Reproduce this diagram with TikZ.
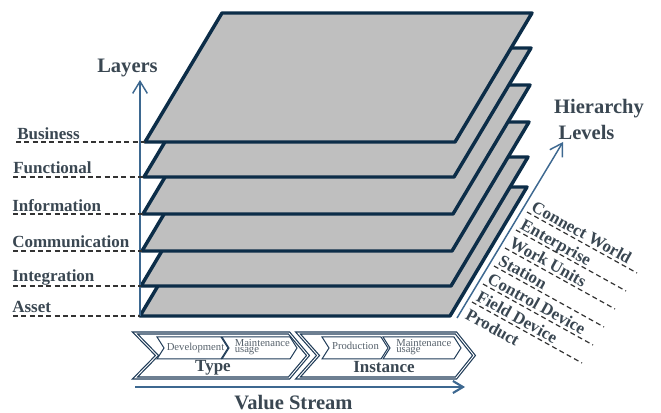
\documentclass[tikz,border=0pt]{standalone}
\usepackage{fontspec}
\setmainfont{Liberation Serif}
\usetikzlibrary{arrows.meta,calc}
\definecolor{navy}{HTML}{0C2D48}
\definecolor{slab}{HTML}{BFBFBF}
\definecolor{axis}{HTML}{3D6890}
\definecolor{ink}{HTML}{3A4752}
\definecolor{soft}{HTML}{56616B}
\definecolor{chev}{HTML}{1F3B57}
\definecolor{guidegray}{HTML}{333333}
\begin{document}
\begin{tikzpicture}[x=0.75pt,y=-0.75pt,
  slabstyle/.style={draw=navy,fill=slab,line width=2.6pt,line join=round},
  guide/.style={draw=guidegray,line width=0.9pt,dash pattern=on 3.75pt off 2.5pt},
  axisarrow/.style={draw=axis,line width=1.1pt,-{Straight Barb[length=9pt,width=11pt]}},
  streamarrow/.style={draw=axis,line width=1.6pt,-{Straight Barb[length=7.5pt,width=9pt]}},
  lbl/.style={font=\fontsize{12.75}{14}\selectfont\bfseries,text=ink,inner sep=0pt},
  title/.style={font=\fontsize{15.4}{17}\selectfont\bfseries,text=ink,inner sep=0pt},
  phase/.style={font=\fontsize{8}{8}\selectfont,text=soft,inner sep=0pt},
  bigchev/.style={draw=chev,line width=0.9pt,double=white,double distance=0.7pt,line join=miter},
  smallchev/.style={draw=chev,line width=0.75pt,line join=miter}]
\useasboundingbox (0,0) rectangle (661,413);

% stacked layer planes, drawn from the lowest upwards
\foreach \x/\y in {140/316,141/286,142/251,143/214,144/177,145/142}
  \draw[slabstyle] (\x,\y) -- ++(310,0) -- ++(77,-129) -- ++(-310,0) -- cycle;

% layer axis
\coordinate (lay0) at (140,316);
\coordinate (lay1) at (140,80);
\draw[axisarrow] (lay0) -- (lay1);
\node[title,anchor=base] (layers) at (127.5,73) {Layers};

% layer names with their guide lines
\foreach \name/\txt/\lx/\ly/\gx/\gy/\ex in {
    business/Business/17/139.5/16/142/145,
    functional/Functional/13/173.5/13/177/144,
    information/Information/12/211.5/13/214/143,
    communication/Communication/12/247.5/13/251/142,
    integration/Integration/12/282/13/286/141,
    asset/Asset/12/312.5/13/316/140}{
  \node[lbl,anchor=base west] (\name) at (\lx,\ly) {\txt};
  \coordinate (\name-a) at (\gx,\gy);
  \coordinate (\name-b) at (\ex,\gy);
  \draw[guide] (\name-a) -- (\name-b);
}

% hierarchy axis
\coordinate (hier0) at (457,318);
\coordinate (hier1) at (563,142);
\draw[axisarrow] (hier0) -- (hier1);
\node[title,anchor=base] (hierarchy) at (599,114) {Hierarchy};
\node[title,anchor=base] (levels) at (586.5,140) {Levels};

% hierarchy level names and guide lines
\foreach \txt [count=\k from 0] in {Connect World,Enterprise,Work Units,Station,Control Device,Field Device,Product}{
  \coordinate (lev\k) at ({527-11*\k},{212+18*\k});
  \node[lbl,rotate=-29,anchor=base west] (levtxt\k) at ($(lev\k)+(3.2,-1.7)$) {\txt};
}
\foreach \k in {0,...,5}{
  \coordinate (levend\k) at ({637-11*\k},{273+18*\k});
  \draw[guide] (lev\k) -- (levend\k);
}

% life-cycle chevrons
\draw[bigchev] (135,333) -- (289,333) -- (308,355.5) -- (289,378) -- (135,378) -- (157,355.5) -- cycle;
\draw[bigchev] (298,333) -- (456,333) -- (474,355.5) -- (456,378) -- (298,378) -- (318,355.5) -- cycle;

\draw[smallchev] (157,337) -- (221,337) -- (228,348) -- (221,359) -- (157,359) -- (164,348) -- cycle;
\draw[smallchev] (222,337) -- (290,337) -- (297,348) -- (290,359) -- (222,359) -- (229,348) -- cycle;
\draw[smallchev] (322,337) -- (381,337) -- (388,348) -- (381,359) -- (322,359) -- (329,348) -- cycle;
\draw[smallchev] (383,337) -- (454,337) -- (461,348) -- (454,359) -- (383,359) -- (390,348) -- cycle;

\node[phase,anchor=base] (dev) at (195.5,350.5) {Development};
\node[phase,anchor=base west] (maint1) at (234.5,346.5) {Maintenance};
\node[phase,anchor=base west] (usage1) at (234.5,352.5) {usage};
\node[phase,anchor=base] (prod) at (355.5,350) {Production};
\node[phase,anchor=base west] (maint2) at (396,346.5) {Maintenance};
\node[phase,anchor=base west] (usage2) at (396,352.5) {usage};

\node[lbl,anchor=base] (type) at (213,372) {Type};
\node[lbl,anchor=base] (instance) at (384,373) {Instance};

% value stream axis
\coordinate (vs0) at (135,387);
\coordinate (vs1) at (465,387);
\draw[streamarrow] (vs0) -- (vs1);
\node[title,anchor=base] (valuestream) at (293.5,410) {Value Stream};
\end{tikzpicture}
\end{document}
